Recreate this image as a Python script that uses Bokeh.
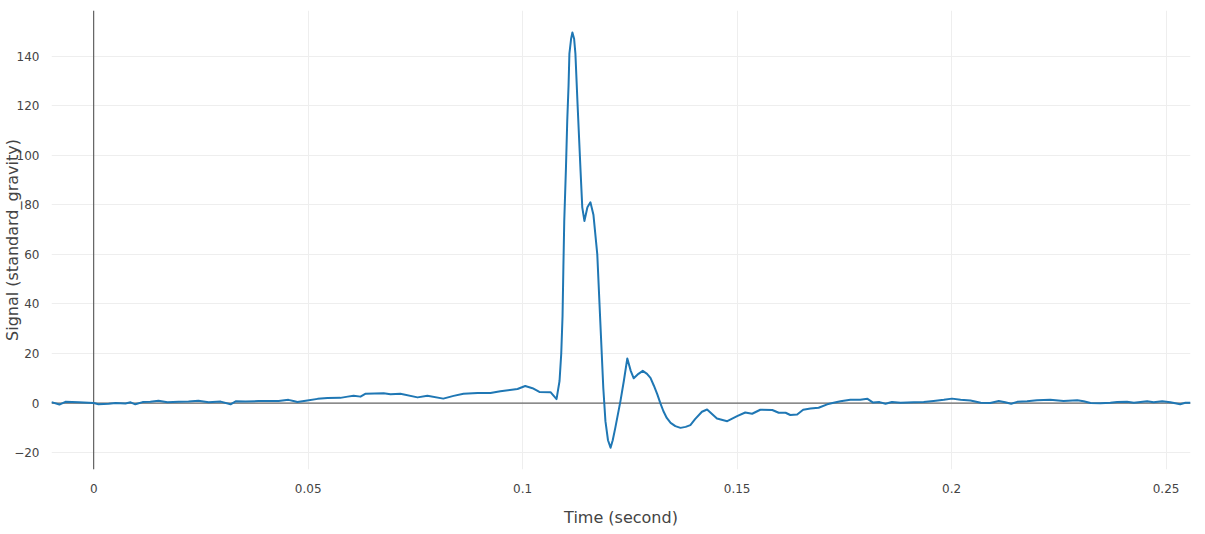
import math
from bokeh.plotting import figure
from bokeh.models import Range1d, FixedTicker, Span, CustomJSTickFormatter
from bokeh.embed import file_html
from bokeh.resources import INLINE

# ---- data ----
time_s = [
    -0.00984, -0.0080, -0.0066, -0.0035, 0.0000, 0.0011, 0.0035, 0.0051, 0.0074, 0.0086,
    0.0097, 0.0114, 0.0132, 0.0151, 0.0172, 0.0198, 0.0221, 0.0244, 0.0268, 0.0296,
    0.0319, 0.0331, 0.0354, 0.0384, 0.0431, 0.0454, 0.0468, 0.0475, 0.0498, 0.0522,
    0.0545, 0.0575, 0.0592, 0.0606, 0.0622, 0.0634, 0.0676, 0.0692, 0.0715, 0.0755,
    0.0778, 0.0815, 0.0839, 0.0862, 0.0895, 0.0925, 0.0948, 0.0988, 0.1006, 0.1023,
    0.1039, 0.1065, 0.1079, 0.1086, 0.1090, 0.1093, 0.1095, 0.1097, 0.1101, 0.1104,
    0.1107, 0.1109, 0.1113, 0.1116, 0.1120, 0.1123, 0.1128, 0.1135, 0.1139, 0.1144,
    0.1151, 0.1158, 0.1165, 0.1174, 0.1181, 0.1188, 0.1193, 0.1199, 0.1205, 0.1210,
    0.1216, 0.1228, 0.1236, 0.1244, 0.1252, 0.1259, 0.1270, 0.1280, 0.1290, 0.1298,
    0.1306, 0.1314, 0.1321, 0.1328, 0.1336, 0.1345, 0.1356, 0.1368, 0.1380, 0.1391,
    0.1402, 0.1418, 0.1430, 0.1453, 0.1477, 0.1500, 0.1519, 0.1535, 0.1554, 0.1582,
    0.1597, 0.1613, 0.1624, 0.1640, 0.1654, 0.1671, 0.1690, 0.1710, 0.1725, 0.1741,
    0.1764, 0.1787, 0.1804, 0.1817, 0.1832, 0.1846, 0.1861, 0.1881, 0.1912, 0.1935,
    0.1958, 0.1982, 0.2001, 0.2021, 0.2044, 0.2068, 0.2090, 0.2110, 0.2125, 0.2139,
    0.2153, 0.2176, 0.2199, 0.2230, 0.2261, 0.2293, 0.2308, 0.2324, 0.2347, 0.2370,
    0.2386, 0.2409, 0.2425, 0.2456, 0.2471, 0.2491, 0.2510, 0.2533, 0.2545, 0.2557,
]
signal_g = [
    0.4, -0.6, 0.5, 0.3, 0.0, -0.5, -0.3, 0.0, -0.2, 0.3,
    -0.5, 0.4, 0.5, 0.9, 0.3, 0.5, 0.6, 0.9, 0.3, 0.6,
    -0.5, 0.7, 0.6, 0.8, 0.8, 1.3, 0.7, 0.4, 1.0, 1.7,
    2.0, 2.1, 2.6, 3.0, 2.6, 3.8, 4.0, 3.6, 3.8, 2.3,
    3.0, 1.8, 2.9, 3.8, 4.1, 4.1, 4.8, 5.7, 6.9, 6.0,
    4.5, 4.4, 1.6, 8.9, 20.0, 35.0, 55.0, 73.5, 95.0, 114.0,
    128.0, 141.0, 147.0, 149.5, 147.0, 141.0, 120.7, 93.7, 79.0, 73.5,
    79.0, 81.0, 76.0, 60.0, 33.0, 6.2, -7.3, -15.0, -18.0, -15.0,
    -10.0, 0.8, 9.0, 18.0, 13.0, 10.0, 11.8, 13.0, 11.8, 10.2,
    7.0, 3.5, 0.0, -3.2, -6.0, -8.0, -9.3, -10.0, -9.6, -8.9,
    -6.5, -3.5, -2.6, -6.2, -7.3, -5.3, -3.8, -4.3, -2.7, -2.8,
    -3.9, -3.9, -4.8, -4.6, -2.7, -2.2, -1.9, -0.5, 0.1, 0.7,
    1.3, 1.3, 1.7, 0.2, 0.4, -0.3, 0.4, 0.1, 0.3, 0.4,
    0.8, 1.3, 1.8, 1.3, 1.0, 0.1, 0.0, 0.8, 0.3, -0.3,
    0.5, 0.7, 1.1, 1.3, 0.8, 1.1, 0.7, 0.0, -0.1, 0.1,
    0.4, 0.5, 0.1, 0.7, 0.3, 0.7, 0.3, -0.5, 0.1, 0.1,
]
x_ticks = [0, 0.05, 0.1, 0.15, 0.2, 0.25]
y_ticks = [-20, 0, 20, 40, 60, 80, 100, 120, 140]
x_title = "Time (second)"
y_title = "Signal (standard_gravity)"

FONT = "DejaVu Sans"
TXT = "#444444"

p = figure(
    width=1205, height=534,
    output_backend="svg", toolbar_location=None,
    x_range=Range1d(time_s[0], time_s[-1]),
    y_range=Range1d(-26.8, 158.4),
    min_border_left=51, min_border_right=15, min_border_top=10, min_border_bottom=65,
    background_fill_color="white", border_fill_color="white",
)
p.outline_line_color = None

for ax in (p.xaxis, p.yaxis):
    ax.axis_line_color = None
    ax.major_tick_line_color = None
    ax.minor_tick_line_color = None
    ax.major_tick_out = 0
    ax.major_tick_in = 0
    ax.minor_tick_out = 0
    ax.minor_tick_in = 0
    ax.major_label_text_font = FONT
    ax.major_label_text_font_size = "12px"
    ax.major_label_text_color = TXT
    ax.axis_label_text_font = FONT
    ax.axis_label_text_font_size = "16px"
    ax.axis_label_text_font_style = "normal"
    ax.axis_label_text_color = TXT

p.xaxis.axis_label = x_title
p.yaxis.axis_label = y_title
p.xaxis.ticker = FixedTicker(ticks=x_ticks)
p.yaxis.ticker = FixedTicker(ticks=y_ticks)
p.xaxis.major_label_standoff = 14
p.yaxis.major_label_standoff = 12
p.xaxis.axis_label_standoff = 12
p.yaxis.axis_label_standoff = -11
p.xaxis.formatter = CustomJSTickFormatter(code="return String(Math.round(tick*1000)/1000);")
p.yaxis.formatter = CustomJSTickFormatter(code="return tick < 0 ? '\u2212' + Math.abs(tick) : String(tick);")

p.xgrid.ticker = FixedTicker(ticks=x_ticks)
p.ygrid.ticker = FixedTicker(ticks=y_ticks)
p.xgrid.grid_line_color = "#eeeeee"
p.ygrid.grid_line_color = "#eeeeee"
p.xgrid.grid_line_width = 1
p.ygrid.grid_line_width = 1

p.add_layout(Span(location=0, dimension="width", line_color="#444444", line_width=1, level="underlay"))
p.add_layout(Span(location=0, dimension="height", line_color="#444444", line_width=1, level="underlay"))

p.line(time_s, signal_g, line_color="#1f77b4", line_width=2, line_join="round")

open("out.html", "w").write(file_html(p, INLINE))
